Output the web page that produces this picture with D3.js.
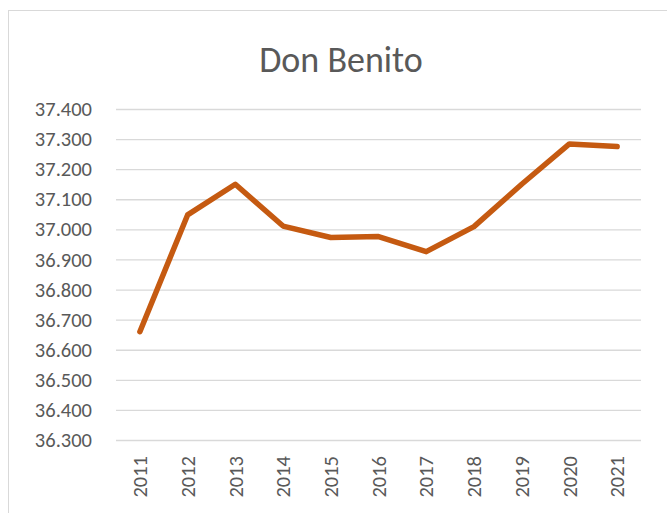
<!DOCTYPE html>
<html>
<head>
<meta charset="utf-8">
<script src="https://cdn.jsdelivr.net/npm/d3@7"></script>
<style>
  html, body { margin: 0; padding: 0; background: #fff; }
  svg { display: block; }
  text { font-family: Carlito, Calibri, Lato, "Open Sans", sans-serif; fill: #595959; }
</style>
</head>
<body>
<svg id="chart" width="667" height="513"></svg>
<script>
// Population of Don Benito by year
const years = ["2011","2012","2013","2014","2015","2016","2017","2018","2019","2020","2021"];
const population = [36660, 37048, 37150, 37011, 36973, 36976, 36926, 37009, 37150, 37284, 37275];
const yTicks = [36300, 36400, 36500, 36600, 36700, 36800, 36900, 37000, 37100, 37200, 37300, 37400];
const title = "Don Benito";

const svg = d3.select("#chart");
const plot = { left: 116, right: 641, top: 109, bottom: 440 };

// chart area frame
svg.append("rect")
  .attr("x", 8.5).attr("y", 10.5)
  .attr("width", 700).attr("height", 600)
  .attr("fill", "#fff").attr("stroke", "#D9D9D9").attr("stroke-width", 1);

svg.append("text")
  .attr("x", 341).attr("y", 72)
  .attr("text-anchor", "middle")
  .attr("font-size", 36)
  .style("font-size", "36px")
  .text(title);

const x = d3.scaleBand().domain(years).range([plot.left, plot.right]);
const y = d3.scaleLinear().domain([36300, 37400]).range([plot.bottom, plot.top]);

// thousands shown with a dot separator: 37400 -> "37.400"
const fmt = v => d3.format(".3f")(v / 1000);

// horizontal gridlines with value labels
const yAxis = d3.axisLeft(y).tickValues(yTicks).tickSize(-(plot.right - plot.left))
  .tickPadding(24).tickFormat(fmt);
const gy = svg.append("g").attr("transform", `translate(${plot.left},0)`).call(yAxis);
gy.select(".domain").remove();
gy.selectAll(".tick line").attr("stroke", "#D9D9D9").attr("stroke-width", 1.3);
gy.selectAll(".tick text").attr("font-size", 20.5).style("font-size", "20.5px").attr("fill", "#595959");

// year labels, rotated
const xAxis = d3.axisBottom(x).tickSize(0).tickPadding(0);
const gx = svg.append("g").attr("transform", `translate(0,${plot.bottom})`).call(xAxis);
gx.select(".domain").remove();
gx.selectAll(".tick text")
  .attr("font-size", 20.5).style("font-size", "20.5px")
  .attr("fill", "#595959")
  .attr("transform", "rotate(-90)")
  .attr("text-anchor", "end")
  .attr("x", -16).attr("y", 0).attr("dy", "0.35em");

// population line
const line = d3.line()
  .x((d, i) => x(years[i]) + x.bandwidth() / 2)
  .y(d => y(d));

svg.append("path")
  .datum(population)
  .attr("d", line)
  .attr("fill", "none")
  .attr("stroke", "#C55A11")
  .attr("stroke-width", 5.5)
  .attr("stroke-linejoin", "round")
  .attr("stroke-linecap", "round");
</script>
</body>
</html>
